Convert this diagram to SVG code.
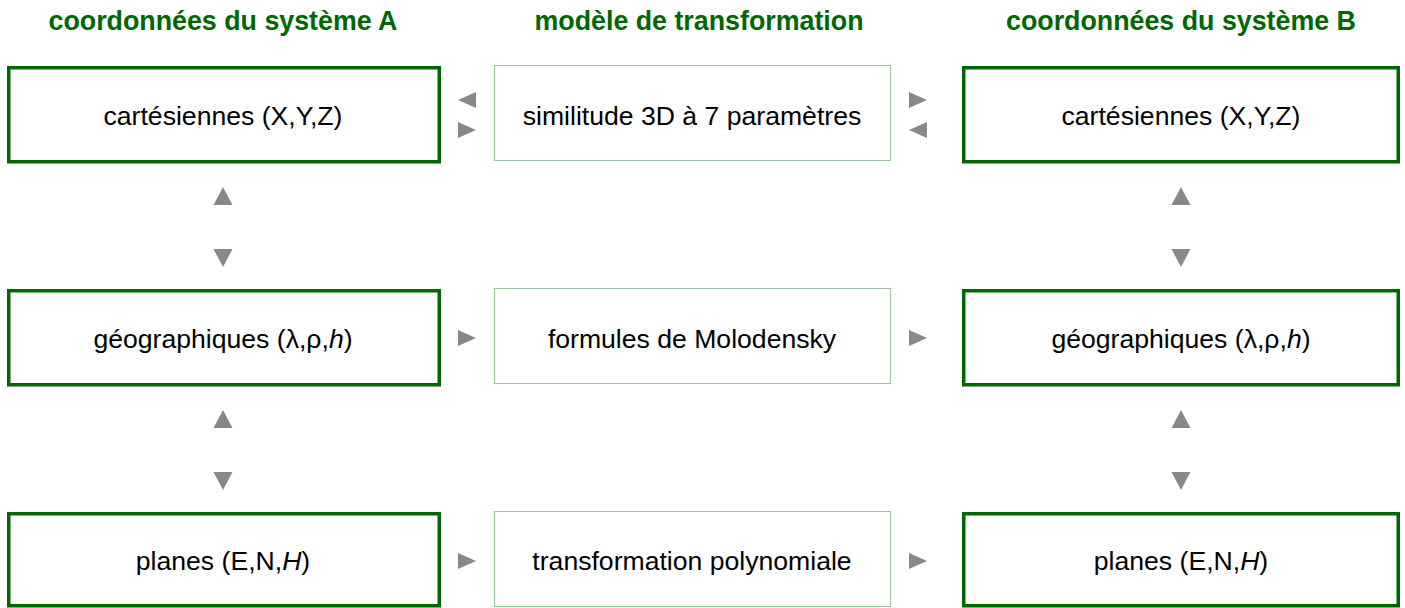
<svg xmlns="http://www.w3.org/2000/svg" width="1405" height="608" viewBox="0 0 1405 608">
<style>
.bg{fill:#ffffff}
.head{font-family:"Liberation Sans",Arial,sans-serif;font-weight:bold;font-size:26.8px;fill:#006600;text-anchor:middle}
.box{fill:#ffffff;stroke:#006600;stroke-width:3.5}
.mid{fill:#ffffff;stroke:#2e8b2e;stroke-width:1;stroke-dasharray:1 1}
.lbl{font-family:"Liberation Sans",Arial,sans-serif;font-size:26.6px;fill:#000000;text-anchor:middle}
.it{font-style:italic}
.tri{fill:#888888}
</style>
<rect class="bg" x="0" y="0" width="1405" height="608"/>
<g id="headings">
<text class="head" x="223" y="30">coordonnées du système A</text>
<text class="head" x="699" y="30">modèle de transformation</text>
<text class="head" x="1181" y="30">coordonnées du système B</text>
</g>
<g id="a-cart"><rect class="box" x="8.75" y="67.75" width="430.5" height="94"/><text class="lbl" x="223" y="125">cartésiennes (X,Y,Z)</text></g>
<g id="a-geo"><rect class="box" x="8.75" y="290.75" width="430.5" height="94"/><text class="lbl" x="223" y="348">géographiques (λ,ρ,<tspan class="it">h</tspan>)</text></g>
<g id="a-plan"><rect class="box" x="8.75" y="513.75" width="430.5" height="92"/><text class="lbl" x="223" y="570">planes (E,N,<tspan class="it">H</tspan>)</text></g>
<g id="m-sim"><rect class="mid" x="494.5" y="65.5" width="396" height="95"/><text class="lbl" x="692" y="125">similitude 3D à 7 paramètres</text></g>
<g id="m-mol"><rect class="mid" x="494.5" y="288.5" width="396" height="95"/><text class="lbl" x="692" y="348">formules de Molodensky</text></g>
<g id="m-poly"><rect class="mid" x="494.5" y="511.5" width="396" height="95"/><text class="lbl" x="692" y="570">transformation polynomiale</text></g>
<g id="b-cart"><rect class="box" x="963.75" y="67.75" width="434.5" height="94"/><text class="lbl" x="1181" y="125">cartésiennes (X,Y,Z)</text></g>
<g id="b-geo"><rect class="box" x="963.75" y="290.75" width="434.5" height="94"/><text class="lbl" x="1181" y="348">géographiques (λ,ρ,<tspan class="it">h</tspan>)</text></g>
<g id="b-plan"><rect class="box" x="963.75" y="513.75" width="434.5" height="92"/><text class="lbl" x="1181" y="570">planes (E,N,<tspan class="it">H</tspan>)</text></g>
<g id="connectors">
<polygon class="tri" points="458,100 476,92 476,108"/>
<polygon class="tri" points="476,130 458,122 458,138"/>
<polygon class="tri" points="927,100 909,92 909,108"/>
<polygon class="tri" points="909,130 927,122 927,138"/>
<polygon class="tri" points="476,338 458,330 458,346"/>
<polygon class="tri" points="927,338 909,330 909,346"/>
<polygon class="tri" points="476,561 458,553 458,569"/>
<polygon class="tri" points="927,561 909,553 909,569"/>
<polygon class="tri" points="223,187 213.5,205 232.5,205"/>
<polygon class="tri" points="223,267 213.5,249 232.5,249"/>
<polygon class="tri" points="223,410 213.5,428 232.5,428"/>
<polygon class="tri" points="223,490 213.5,472 232.5,472"/>
<polygon class="tri" points="1181,187 1171.5,205 1190.5,205"/>
<polygon class="tri" points="1181,267 1171.5,249 1190.5,249"/>
<polygon class="tri" points="1181,410 1171.5,428 1190.5,428"/>
<polygon class="tri" points="1181,490 1171.5,472 1190.5,472"/>
</g>
</svg>
